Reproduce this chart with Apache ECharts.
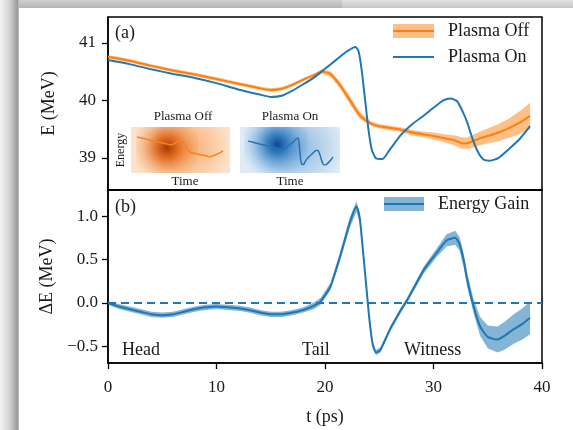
<!DOCTYPE html>
<html>
<head>
<meta charset="utf-8">
<script src="https://cdn.jsdelivr.net/npm/echarts@6/dist/echarts.min.js"></script>
<style>
  html, body { margin: 0; padding: 0; background: #fff; }
  #main { width: 573px; height: 430px; }
</style>
</head>
<body>
<div id="main"></div>
<script>
// ---- data ----
// (a) Plasma Off: time (ps), energy (MeV), half width of band
var tOff = [0, 2, 4, 6, 8, 10, 12, 14, 15, 16, 17, 18, 19, 19.7, 20.5, 21.4, 22.3, 23.2, 24.2, 25, 26, 27, 28, 29, 30, 31, 32, 32.5, 33, 33.5, 34.3, 35, 36, 37, 38, 38.9];
var eOff = [40.76, 40.69, 40.6, 40.52, 40.45, 40.37, 40.29, 40.21, 40.18, 40.2, 40.27, 40.36, 40.44, 40.5, 40.46, 40.26, 40.0, 39.74, 39.6, 39.55, 39.52, 39.49, 39.44, 39.41, 39.38, 39.34, 39.3, 39.26, 39.25, 39.28, 39.34, 39.38, 39.44, 39.52, 39.62, 39.73];
var errOff = [0.03, 0.03, 0.03, 0.03, 0.03, 0.03, 0.03, 0.03, 0.03, 0.03, 0.03, 0.03, 0.03, 0.04, 0.05, 0.06, 0.07, 0.06, 0.04, 0.04, 0.04, 0.04, 0.05, 0.05, 0.06, 0.07, 0.09, 0.1, 0.1, 0.11, 0.12, 0.13, 0.15, 0.17, 0.2, 0.23];

// (a) Plasma On
var tOn = [0, 2, 4, 6, 8, 10, 12, 14, 15, 16, 17, 18, 19, 20, 21, 22, 22.8, 23.1, 23.4, 23.7, 24.0, 24.3, 24.7, 25.3, 26, 27, 28, 29, 30, 30.9, 31.6, 32.2, 32.7, 33.1, 33.6, 34.1, 34.6, 35.2, 36, 37, 38, 38.9];
var eOn = [40.70, 40.63, 40.54, 40.46, 40.39, 40.3, 40.19, 40.1, 40.06, 40.08, 40.17, 40.28, 40.4, 40.55, 40.7, 40.85, 40.93, 40.85, 40.5, 40.0, 39.5, 39.15, 38.99, 38.98, 39.15, 39.4, 39.58, 39.72, 39.87, 40.0, 40.03, 39.98, 39.8, 39.62, 39.33, 39.1, 38.97, 38.95, 39.0, 39.16, 39.34, 39.55];

// (b) Energy gain
var tGain = [0, 1, 2, 3, 4, 5, 6, 7, 8, 9, 10, 11, 12, 13, 14, 15, 16, 17, 18, 19, 19.6, 20.5, 21.4, 22.3, 22.9, 23.2, 23.5, 23.8, 24.1, 24.4, 24.7, 25.1, 26, 27, 27.6, 29.1, 30.3, 31.2, 32, 32.4, 32.8, 33.1, 33.7, 34.3, 35, 35.9, 36.5, 37.4, 38.2, 38.9];
var gain = [0, -0.04, -0.07, -0.1, -0.13, -0.14, -0.13, -0.1, -0.07, -0.05, -0.04, -0.05, -0.06, -0.08, -0.11, -0.13, -0.13, -0.11, -0.08, -0.03, 0.02, 0.19, 0.54, 0.93, 1.11, 0.98, 0.6, 0.2, -0.2, -0.48, -0.57, -0.54, -0.3, -0.08, 0.04, 0.38, 0.58, 0.72, 0.75, 0.68, 0.48, 0.27, -0.04, -0.27, -0.39, -0.42, -0.38, -0.3, -0.24, -0.17];
var errGain = [0.02, 0.03, 0.03, 0.03, 0.03, 0.03, 0.03, 0.03, 0.03, 0.03, 0.03, 0.03, 0.03, 0.03, 0.03, 0.03, 0.03, 0.03, 0.03, 0.04, 0.04, 0.04, 0.05, 0.06, 0.06, 0.06, 0.05, 0.04, 0.04, 0.04, 0.03, 0.03, 0.03, 0.03, 0.03, 0.04, 0.05, 0.07, 0.08, 0.08, 0.08, 0.08, 0.08, 0.11, 0.13, 0.15, 0.16, 0.17, 0.18, 0.19];

var xTicks = [0, 10, 20, 30, 40];
var eTicks = [39, 40, 41];
var gainTicks = [-0.5, 0, 0.5, 1.0];

var ORANGE = '#ff7f0e';
var BLUE = '#1f77b4';
var FONT = 'Liberation Serif';
var TXT = '#1a1a1a';

function pairs(t, v) { return t.map(function (x, i) { return [x, v[i]]; }); }
function bandData(t, v, e) { return t.map(function (x, i) { return [x, v[i] - e[i], v[i] + e[i]]; }); }
function fmt(v) { return (v < 0 ? '\u2212' : '') + Math.abs(v).toFixed(1); }

// shaded band: one polygon drawn through the axis scales
function bandSeries(xi, yi, data, color, op) {
    return {
        type: 'custom', xAxisIndex: xi, yAxisIndex: yi, data: data, z: 2, silent: true,
        renderItem: function (params, api) {
            if (params.dataIndex !== 0) return;
            var top = [], bot = [];
            for (var i = 0; i < data.length; i++) {
                top.push(api.coord([data[i][0], data[i][2]]));
                bot.unshift(api.coord([data[i][0], data[i][1]]));
            }
            return { type: 'polygon', shape: { points: top.concat(bot) }, style: { fill: color, opacity: op } };
        }
    };
}

var myChart = echarts.init(document.getElementById('main'));

var tick = { show: true, inside: false, length: 6, lineStyle: { color: '#000', width: 1.3 } };
var line = { show: true, onZero: false, lineStyle: { color: '#000', width: 1.5 } };
var lab = { fontFamily: FONT, fontSize: 17, color: TXT };

function txt(s, x, y, size, extra) {
    var o = { type: 'text', z: 5, x: x, y: y, style: { text: s, fontFamily: FONT, fontSize: size, fill: TXT, verticalAlign: 'middle' } };
    return Object.assign(o, extra || {});
}
function ctxt(s, x, y, size) {
    var o = txt(s, x, y, size);
    o.style.align = 'center';
    return o;
}

var energyLbl = ctxt('Energy', 121, 150, 12);
energyLbl.rotation = Math.PI / 2;

var option = {
    animation: false,
    backgroundColor: '#fff',
    grid: [
        { left: 108, top: 17, width: 434, height: 173, show: true, borderColor: '#000', borderWidth: 1.5, backgroundColor: 'transparent' },
        { left: 108, top: 190, width: 434, height: 173, show: true, borderColor: '#000', borderWidth: 1.5, backgroundColor: 'transparent' },
        { left: 137, top: 137, width: 86, height: 20 },
        { left: 248, top: 138, width: 85, height: 27 }
    ],
    xAxis: [
        { gridIndex: 0, type: 'value', min: 0, max: 40, axisLine: line, axisTick: { show: false }, axisLabel: { show: false }, splitLine: { show: false } },
        { gridIndex: 1, type: 'value', min: 0, max: 40, interval: 10, axisLine: line, axisTick: tick, splitLine: { show: false },
          axisLabel: Object.assign({ margin: 16, customValues: xTicks }, lab),
          name: 't (ps)', nameLocation: 'middle', nameGap: 45, nameTextStyle: { fontFamily: FONT, fontSize: 18, color: TXT } },
        { gridIndex: 2, type: 'value', min: 0, max: 38.9, show: false },
        { gridIndex: 3, type: 'value', min: 0, max: 38.9, show: false }
    ],
    yAxis: [
        { gridIndex: 0, type: 'value', min: 38.44, max: 41.45, axisLine: line, axisTick: Object.assign({ customValues: eTicks }, tick), splitLine: { show: false },
          axisLabel: Object.assign({ margin: 12, customValues: eTicks }, lab),
          name: 'E (MeV)', nameLocation: 'middle', nameGap: 50, nameRotate: 90, nameTextStyle: { fontFamily: FONT, fontSize: 18, color: TXT } },
        { gridIndex: 1, type: 'value', min: -0.69, max: 1.30, axisLine: line, axisTick: Object.assign({ customValues: gainTicks }, tick), splitLine: { show: false },
          axisLabel: Object.assign({ margin: 10, customValues: gainTicks, formatter: fmt }, lab),
          name: '\u0394E (MeV)', nameLocation: 'middle', nameGap: 50, nameRotate: 90, nameTextStyle: { fontFamily: FONT, fontSize: 18, color: TXT } },
        { gridIndex: 2, type: 'value', min: 39.25, max: 40.76, show: false },
        { gridIndex: 3, type: 'value', min: 38.95, max: 40.93, show: false }
    ],
    graphic: [
        // page frame of the screenshot
        { type: 'rect', shape: { x: 0, y: 0, width: 573, height: 8 }, z: -10,
          style: { fill: new echarts.graphic.LinearGradient(0, 0, 0, 1, [{ offset: 0, color: '#e2e2e2' }, { offset: 1, color: '#c6c6c6' }]) } },
        { type: 'rect', shape: { x: 19, y: 0, width: 323, height: 8 }, z: -9,
          style: { fill: new echarts.graphic.LinearGradient(0, 0, 0, 1, [{ offset: 0, color: '#d0d0d0' }, { offset: 1, color: '#b4b4b4' }]) } },
        { type: 'rect', shape: { x: 0, y: 0, width: 19, height: 430 }, z: -8,
          style: { fill: new echarts.graphic.LinearGradient(0, 0, 1, 0, [{ offset: 0, color: '#f4f4f4' }, { offset: 0.5, color: '#d4d4d4' }, { offset: 0.92, color: '#9a9a9a' }, { offset: 1, color: '#c8c8c8' }]) } },

        // inset images
        { type: 'rect', shape: { x: 131, y: 127, width: 99, height: 46 }, z: -5, style: { fill: '#fde3cb' } },
        { type: 'rect', shape: { x: 131, y: 127, width: 99, height: 46 }, z: -4,
          style: { fill: new echarts.graphic.RadialGradient(0.6, 0.45, 0.9, [{ offset: 0, color: 'rgba(248,160,90,0.8)' }, { offset: 1, color: 'rgba(248,160,90,0)' }]) } },
        { type: 'rect', shape: { x: 136, y: 127, width: 62, height: 46 }, z: -3,
          style: { fill: new echarts.graphic.RadialGradient(0.5, 0.45, 0.8, [{ offset: 0, color: 'rgba(170,55,0,1)' }, { offset: 0.3, color: 'rgba(220,95,15,0.85)' }, { offset: 1, color: 'rgba(250,170,110,0)' }]) } },
        { type: 'rect', shape: { x: 240, y: 127, width: 100, height: 46 }, z: -5, style: { fill: '#dfebf7' } },
        { type: 'rect', shape: { x: 240, y: 127, width: 100, height: 46 }, z: -4,
          style: { fill: new echarts.graphic.RadialGradient(0.6, 0.45, 0.95, [{ offset: 0, color: 'rgba(110,165,215,0.7)' }, { offset: 1, color: 'rgba(110,165,215,0)' }]) } },
        { type: 'rect', shape: { x: 244, y: 127, width: 64, height: 46 }, z: -3,
          style: { fill: new echarts.graphic.RadialGradient(0.52, 0.38, 0.8, [{ offset: 0, color: 'rgba(8,70,150,1)' }, { offset: 0.3, color: 'rgba(40,120,190,0.85)' }, { offset: 1, color: 'rgba(130,180,225,0)' }]) } },
        ctxt('Plasma Off', 183, 117, 13),
        ctxt('Plasma On', 290, 117, 13),
        ctxt('Time', 185, 182, 13),
        ctxt('Time', 290, 182, 13),
        energyLbl,

        // panel labels and region names
        txt('(a)', 115, 33, 18),
        txt('(b)', 115, 207, 18),
        txt('Head', 122, 350, 18),
        txt('Tail', 302, 350, 18),
        txt('Witness', 404, 350, 18),

        // legends
        { type: 'rect', z: 5, shape: { x: 393, y: 24, width: 41, height: 14 }, style: { fill: ORANGE, opacity: 0.5 } },
        { type: 'line', z: 6, shape: { x1: 393, y1: 31, x2: 434, y2: 31 }, style: { stroke: ORANGE, lineWidth: 2 } },
        txt('Plasma Off', 448, 31, 18),
        { type: 'line', z: 6, shape: { x1: 393, y1: 57, x2: 434, y2: 57 }, style: { stroke: BLUE, lineWidth: 2 } },
        txt('Plasma On', 448, 57, 18),
        { type: 'rect', z: 5, shape: { x: 384, y: 197, width: 40, height: 14 }, style: { fill: BLUE, opacity: 0.55 } },
        { type: 'line', z: 6, shape: { x1: 384, y1: 204, x2: 424, y2: 204 }, style: { stroke: BLUE, lineWidth: 2 } },
        txt('Energy Gain', 438, 204, 18)
    ],
    series: [
        bandSeries(0, 0, bandData(tOff, eOff, errOff), ORANGE, 0.5),
        { type: 'line', name: 'Plasma Off', xAxisIndex: 0, yAxisIndex: 0, data: pairs(tOff, eOff), symbol: 'none', smooth: 0.2, lineStyle: { color: ORANGE, width: 2 }, z: 3 },
        { type: 'line', name: 'Plasma On', xAxisIndex: 0, yAxisIndex: 0, data: pairs(tOn, eOn), symbol: 'none', smooth: 0.2, lineStyle: { color: BLUE, width: 2 }, z: 4 },
        bandSeries(1, 1, bandData(tGain, gain, errGain), BLUE, 0.55),
        { type: 'line', name: 'Energy Gain', xAxisIndex: 1, yAxisIndex: 1, data: pairs(tGain, gain), symbol: 'none', smooth: 0.2, lineStyle: { color: BLUE, width: 2 }, z: 3,
          markLine: { silent: true, symbol: 'none', label: { show: false }, lineStyle: { color: BLUE, width: 1.8, type: [8, 5] }, data: [{ yAxis: 0 }] } },
        // inset traces
        { type: 'line', xAxisIndex: 2, yAxisIndex: 2, data: pairs(tOff, eOff), symbol: 'none', smooth: 0.3, lineStyle: { color: '#f5841f', width: 1.5 }, z: 3 },
        { type: 'line', xAxisIndex: 3, yAxisIndex: 3, data: pairs(tOn, eOn), symbol: 'none', smooth: 0.3, lineStyle: { color: '#2a72b0', width: 1.5 }, z: 3 }
    ]
};

myChart.setOption(option);
</script>
</body>
</html>
